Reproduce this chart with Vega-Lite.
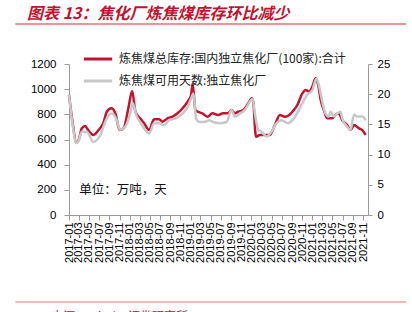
{
  "$schema": "https://vega.github.io/schema/vega-lite/v6.json",
  "autosize": "none",
  "width": 299,
  "height": 151,
  "padding": {"left": 69, "top": 64, "right": 44, "bottom": 97},
  "background": "white",
  "config": {
    "view": {"stroke": null},
    "font": "Liberation Sans",
    "axis": {
      "labelOverlap": false, "labelFlush": false, "grid": false,
      "labelColor": "#000", "domainColor": "#9a9a9a", "tickColor": "#9a9a9a"
    },
    "axisLeft": {"labelFontSize": 11.5, "labelPadding": 8, "tickSize": 5, "tickCount": 7},
    "axisRight": {"labelFontSize": 11.5, "labelPadding": 5, "tickSize": 4, "tickCount": 6}
  },
  "title": {
    "text": "图表 13：焦化厂炼焦煤库存环比减少",
    "anchor": "start",
    "frame": "group",
    "dx": -42,
    "offset": 1,
    "font": "Noto Sans CJK SC",
    "fontSize": 16,
    "fontStyle": "italic",
    "fontWeight": "bold",
    "color": "#C4122F"
  },
  "datasets": {
    "stock": [
      {"date": "2017-01-01", "value": 955},
      {"date": "2017-01-20", "value": 760},
      {"date": "2017-02-15", "value": 575},
      {"date": "2017-03-01", "value": 600},
      {"date": "2017-03-19", "value": 689},
      {"date": "2017-04-08", "value": 707},
      {"date": "2017-04-26", "value": 675},
      {"date": "2017-05-27", "value": 636},
      {"date": "2017-06-27", "value": 675},
      {"date": "2017-07-27", "value": 733},
      {"date": "2017-08-16", "value": 821},
      {"date": "2017-09-12", "value": 848},
      {"date": "2017-10-06", "value": 808},
      {"date": "2017-11-01", "value": 675},
      {"date": "2017-11-25", "value": 689},
      {"date": "2017-12-25", "value": 861},
      {"date": "2018-01-15", "value": 985},
      {"date": "2018-02-04", "value": 821},
      {"date": "2018-03-04", "value": 768},
      {"date": "2018-03-28", "value": 729},
      {"date": "2018-04-27", "value": 675},
      {"date": "2018-05-27", "value": 760},
      {"date": "2018-06-26", "value": 760},
      {"date": "2018-07-16", "value": 742},
      {"date": "2018-08-15", "value": 768},
      {"date": "2018-09-15", "value": 781},
      {"date": "2018-10-15", "value": 808},
      {"date": "2018-11-14", "value": 848},
      {"date": "2018-12-14", "value": 900},
      {"date": "2019-01-04", "value": 954},
      {"date": "2019-01-13", "value": 1045},
      {"date": "2019-01-30", "value": 834},
      {"date": "2019-02-13", "value": 821},
      {"date": "2019-03-13", "value": 808},
      {"date": "2019-04-12", "value": 781},
      {"date": "2019-05-12", "value": 808},
      {"date": "2019-06-15", "value": 795},
      {"date": "2019-07-15", "value": 808},
      {"date": "2019-08-14", "value": 808},
      {"date": "2019-09-03", "value": 834},
      {"date": "2019-09-24", "value": 808},
      {"date": "2019-10-14", "value": 821},
      {"date": "2019-11-13", "value": 834},
      {"date": "2019-12-13", "value": 888},
      {"date": "2020-01-02", "value": 927},
      {"date": "2020-01-12", "value": 900},
      {"date": "2020-01-28", "value": 622},
      {"date": "2020-02-21", "value": 636},
      {"date": "2020-03-22", "value": 636},
      {"date": "2020-04-21", "value": 636},
      {"date": "2020-05-21", "value": 715},
      {"date": "2020-06-20", "value": 795},
      {"date": "2020-07-20", "value": 781},
      {"date": "2020-08-15", "value": 795},
      {"date": "2020-09-03", "value": 821},
      {"date": "2020-10-03", "value": 874},
      {"date": "2020-11-02", "value": 967},
      {"date": "2020-11-22", "value": 993},
      {"date": "2020-12-12", "value": 980},
      {"date": "2021-01-01", "value": 1020},
      {"date": "2021-01-21", "value": 1086},
      {"date": "2021-02-05", "value": 1033},
      {"date": "2021-02-20", "value": 914},
      {"date": "2021-03-11", "value": 834},
      {"date": "2021-03-31", "value": 768},
      {"date": "2021-04-30", "value": 768},
      {"date": "2021-05-20", "value": 795},
      {"date": "2021-06-09", "value": 808},
      {"date": "2021-06-29", "value": 755},
      {"date": "2021-07-29", "value": 715},
      {"date": "2021-08-18", "value": 675},
      {"date": "2021-09-08", "value": 715},
      {"date": "2021-10-08", "value": 689},
      {"date": "2021-10-28", "value": 675},
      {"date": "2021-11-17", "value": 636}
    ],
    "days": [
      {"date": "2017-01-01", "value": 19.9},
      {"date": "2017-01-20", "value": 15.5},
      {"date": "2017-02-15", "value": 11.9},
      {"date": "2017-03-01", "value": 12.4},
      {"date": "2017-03-19", "value": 13.8},
      {"date": "2017-04-18", "value": 13.8},
      {"date": "2017-05-27", "value": 12.1},
      {"date": "2017-07-07", "value": 13.2},
      {"date": "2017-08-16", "value": 16.0},
      {"date": "2017-09-15", "value": 16.8},
      {"date": "2017-10-15", "value": 15.7},
      {"date": "2017-11-04", "value": 14.1},
      {"date": "2017-12-04", "value": 14.6},
      {"date": "2018-01-03", "value": 16.8},
      {"date": "2018-01-19", "value": 18.5},
      {"date": "2018-02-12", "value": 16.3},
      {"date": "2018-03-04", "value": 15.4},
      {"date": "2018-04-27", "value": 13.5},
      {"date": "2018-05-27", "value": 15.2},
      {"date": "2018-06-26", "value": 15.2},
      {"date": "2018-07-26", "value": 14.9},
      {"date": "2018-08-25", "value": 15.7},
      {"date": "2018-10-04", "value": 16.0},
      {"date": "2018-11-14", "value": 16.8},
      {"date": "2018-12-14", "value": 17.9},
      {"date": "2019-01-04", "value": 19.3},
      {"date": "2019-01-18", "value": 20.1},
      {"date": "2019-02-03", "value": 16.0},
      {"date": "2019-02-22", "value": 15.4},
      {"date": "2019-03-24", "value": 15.4},
      {"date": "2019-04-23", "value": 15.7},
      {"date": "2019-05-16", "value": 15.4},
      {"date": "2019-06-26", "value": 15.2},
      {"date": "2019-08-05", "value": 15.4},
      {"date": "2019-09-03", "value": 17.4},
      {"date": "2019-09-24", "value": 16.3},
      {"date": "2019-10-24", "value": 16.8},
      {"date": "2019-11-23", "value": 17.4},
      {"date": "2019-12-23", "value": 18.8},
      {"date": "2020-01-08", "value": 19.2},
      {"date": "2020-01-22", "value": 16.8},
      {"date": "2020-02-11", "value": 14.1},
      {"date": "2020-03-02", "value": 13.8},
      {"date": "2020-04-01", "value": 13.0},
      {"date": "2020-05-01", "value": 13.8},
      {"date": "2020-05-31", "value": 15.2},
      {"date": "2020-06-30", "value": 15.7},
      {"date": "2020-08-09", "value": 15.2},
      {"date": "2020-09-12", "value": 16.0},
      {"date": "2020-10-22", "value": 17.9},
      {"date": "2020-12-01", "value": 19.9},
      {"date": "2021-01-01", "value": 20.7},
      {"date": "2021-01-26", "value": 22.6},
      {"date": "2021-02-09", "value": 21.5},
      {"date": "2021-03-01", "value": 18.8},
      {"date": "2021-03-21", "value": 16.8},
      {"date": "2021-04-10", "value": 16.3},
      {"date": "2021-04-20", "value": 17.1},
      {"date": "2021-05-10", "value": 16.3},
      {"date": "2021-05-30", "value": 16.8},
      {"date": "2021-06-19", "value": 17.1},
      {"date": "2021-06-29", "value": 16.0},
      {"date": "2021-07-29", "value": 14.6},
      {"date": "2021-08-18", "value": 14.1},
      {"date": "2021-09-08", "value": 16.6},
      {"date": "2021-09-28", "value": 16.3},
      {"date": "2021-10-28", "value": 16.3},
      {"date": "2021-11-17", "value": 15.7}
    ]
  },
  "layer": [
    {
      "layer": [
        {
          "data": {"name": "stock"},
          "mark": {"type": "line", "strokeWidth": 2.5, "interpolate": "monotone"},
          "encoding": {
            "x": {
              "field": "date", "type": "temporal",
              "scale": {"domain": ["2017-01-01", "2021-12-01"]},
              "axis": {
                "title": null, "format": "%Y-%m", "labelAngle": -90,
                "tickCount": {"interval": "month", "step": 2},
                "labelFontSize": 11, "labelPadding": 2, "tickSize": 5
              }
            },
            "y": {
              "field": "value", "type": "quantitative",
              "scale": {"domain": [0, 1200]},
              "axis": {"title": null, "format": "d"}
            },
            "color": {
              "datum": "炼焦煤总库存:国内独立焦化厂(100家):合计",
              "type": "nominal",
              "scale": {
                "domain": ["炼焦煤总库存:国内独立焦化厂(100家):合计", "炼焦煤可用天数:独立焦化厂"],
                "range": ["#C4122F", "#C8C8C8"]
              },
              "legend": {
                "title": null, "orient": "none", "legendX": 13, "legendY": -21,
                "symbolType": "stroke", "symbolSize": 800, "symbolStrokeWidth": 3,
                "labelFont": "Noto Sans CJK SC", "labelFontSize": 12, "labelColor": "#222",
                "labelLimit": 400, "labelOffset": 5, "rowPadding": -5
              }
            }
          }
        },
        {
          "data": {"values": [{"label": "单位：万吨，天"}]},
          "mark": {"type": "text", "align": "left", "baseline": "middle", "font": "Noto Sans CJK SC", "fontSize": 12.5, "color": "#111"},
          "encoding": {
            "x": {"datum": {"year": 2017, "month": 3, "date": 3}, "type": "temporal"},
            "y": {"datum": 199, "type": "quantitative"},
            "text": {"field": "label"}
          }
        },
        {
          "data": {"values": [{"label": "top"}]},
          "mark": {"type": "rule", "color": "#E57373", "strokeWidth": 1.5},
          "encoding": {
            "x": {"datum": {"year": 2016, "month": 2, "date": 14}, "type": "temporal"},
            "x2": {"datum": {"year": 2022, "month": 7, "date": 18}},
            "y": {"datum": 1518, "type": "quantitative"}
          }
        },
        {
          "data": {"values": [{"label": "bottom"}]},
          "mark": {"type": "rule", "color": "#F2A0A0", "strokeWidth": 1.5},
          "encoding": {
            "x": {"datum": {"year": 2016, "month": 2, "date": 14}, "type": "temporal"},
            "x2": {"datum": {"year": 2022, "month": 7, "date": 18}},
            "y": {"datum": -691, "type": "quantitative"}
          }
        },
        {
          "data": {"values": [{"label": "来源：Wind，证券研究所"}]},
          "mark": {"type": "text", "align": "left", "baseline": "alphabetic", "font": "Noto Sans CJK SC", "fontSize": 12, "color": "#C4122F"},
          "encoding": {
            "x": {"datum": {"year": 2016, "month": 9, "date": 17}, "type": "temporal"},
            "y": {"datum": -842, "type": "quantitative"},
            "text": {"field": "label"}
          }
        }
      ]
    },
    {
      "data": {"name": "days"},
      "mark": {"type": "line", "strokeWidth": 2.5, "interpolate": "monotone"},
      "encoding": {
        "x": {"field": "date", "type": "temporal"},
        "y": {
          "field": "value", "type": "quantitative",
          "scale": {"domain": [0, 25]},
          "axis": {"title": null, "orient": "right"}
        },
        "color": {"datum": "炼焦煤可用天数:独立焦化厂", "type": "nominal"}
      }
    }
  ],
  "resolve": {"scale": {"y": "independent"}}
}
